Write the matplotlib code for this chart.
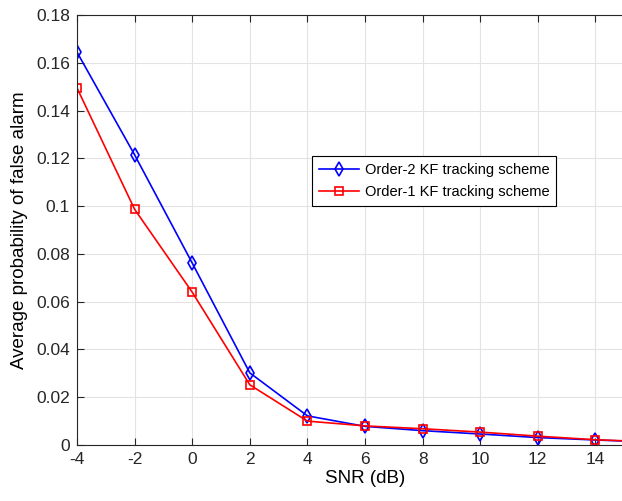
import matplotlib
matplotlib.use('Agg')
import matplotlib.pyplot as plt

# SNR points and average false alarm probability for the two tracking schemes
snr_db = [-4, -2, 0, 2, 4, 6, 8, 10, 12, 14, 16]
pfa_order2 = [0.1645, 0.1215, 0.0762, 0.0302, 0.0122, 0.0078, 0.0060, 0.0046, 0.0031, 0.0021, 0.0012]
pfa_order1 = [0.1495, 0.0987, 0.0640, 0.0252, 0.0100, 0.0080, 0.0068, 0.0054, 0.0037, 0.0022, 0.0013]

xticks = [-4, -2, 0, 2, 4, 6, 8, 10, 12, 14]
xtick_labels = ['-4', '-2', '0', '2', '4', '6', '8', '10', '12', '14']
yticks = [0, 0.02, 0.04, 0.06, 0.08, 0.1, 0.12, 0.14, 0.16, 0.18]
ytick_labels = ['0', '0.02', '0.04', '0.06', '0.08', '0.1', '0.12', '0.14', '0.16', '0.18']

plt.rcParams['font.family'] = ['Liberation Sans', 'DejaVu Sans']

fig = plt.figure(figsize=(6.22, 5.01), dpi=100)
ax = fig.add_axes([0.1238, 0.1118, 0.926, 0.858])

ax.plot(snr_db, pfa_order2, color='blue', marker='d', markersize=7, markerfacecolor='none',
        markeredgewidth=1.2, linewidth=1.2, label='Order-2 KF tracking scheme')
ax.plot(snr_db, pfa_order1, color='red', marker='s', markersize=6, markerfacecolor='none',
        markeredgewidth=1.2, linewidth=1.2, label='Order-1 KF tracking scheme')

ax.set_xlim(-4, 16)
ax.set_ylim(0, 0.18)
ax.set_xticks(xticks)
ax.set_xticklabels(xtick_labels)
ax.set_yticks(yticks)
ax.set_yticklabels(ytick_labels)
ax.tick_params(direction='in', top=True, right=True, labelsize=12.5, length=5, width=0.8,
               colors='#262626', pad=5)
ax.grid(True, color='#e3e3e3', linewidth=0.8)
ax.set_axisbelow(True)
for s in ax.spines.values():
    s.set_color('#262626')
    s.set_linewidth(0.8)

ax.set_xlabel('SNR (dB)', fontsize=13.5, labelpad=2)
ax.set_ylabel('Average probability of false alarm', fontsize=13.5, labelpad=6)

leg = ax.legend(loc='upper left', bbox_to_anchor=(0.408, 0.672), fontsize=10.5, fancybox=False,
                framealpha=1, edgecolor='black', handlelength=2.7, borderpad=0.5, labelspacing=0.5,
                handletextpad=0.4, borderaxespad=0)
leg.get_frame().set_linewidth(0.8)

fig.savefig('out.png', dpi=100)
